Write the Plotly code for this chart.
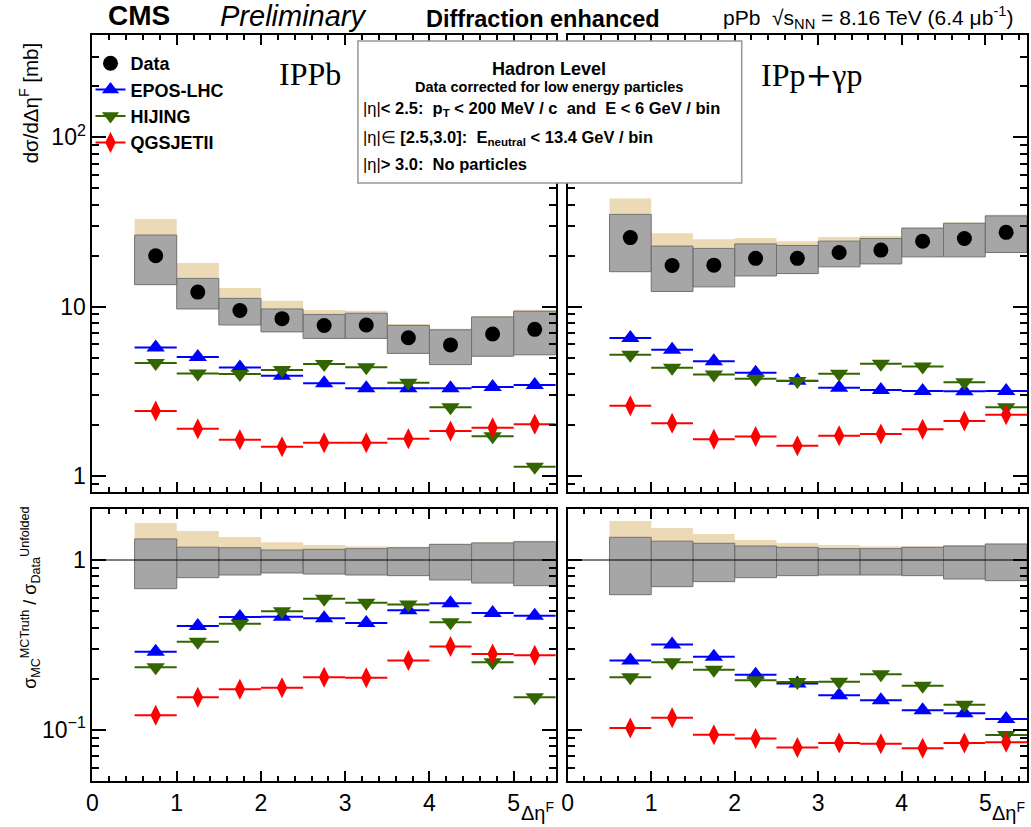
import plotly.graph_objects as go

# ---------------- data ----------------
bin_edges = [0.5, 1.0, 1.5, 2.0, 2.5, 3.0, 3.5, 4.0, 4.5, 5.0, 5.5]

# IPPb (top-left)
data_pb = [20.0, 12.2, 9.5, 8.5, 7.75, 7.8, 6.55, 5.95, 6.9, 7.35]
sys_lo_pb = [13.5, 9.7, 7.8, 7.1, 6.5, 6.5, 5.3, 4.55, 5.1, 5.2]
sys_hi_pb = [26.5, 14.7, 11.2, 9.7, 9.0, 9.15, 7.75, 7.3, 8.7, 9.4]
tot_hi_pb = [33.0, 18.1, 12.9, 10.85, 9.55, 9.45, 7.9, 7.4, 8.8, 9.6]
epos_pb = [5.75, 5.05, 4.37, 3.91, 3.53, 3.30, 3.30, 3.30, 3.36, 3.45]
hijing_pb = [4.65, 4.03, 4.0, 4.23, 4.59, 4.39, 3.56, 2.55, 1.72, 1.135]
qgs_pb = [2.42, 1.90, 1.64, 1.49, 1.57, 1.57, 1.66, 1.845, 1.93, 2.02]

# IPp+gamma p (top-right)
data_p = [25.6, 17.5, 17.6, 19.3, 19.3, 20.9, 21.6, 24.4, 25.3, 27.5]
sys_lo_p = [16.1, 12.3, 13.1, 15.2, 15.7, 17.2, 17.9, 19.7, 19.7, 20.9]
sys_hi_p = [35.1, 22.8, 22.1, 23.5, 23.0, 24.4, 25.3, 29.1, 31.1, 34.4]
tot_hi_p = [43.6, 27.2, 25.0, 25.5, 24.4, 25.8, 26.2, 29.5, 31.4, 34.9]
epos_p = [6.53, 5.57, 4.77, 4.07, 3.65, 3.32, 3.22, 3.18, 3.17, 3.18]
hijing_p = [5.21, 4.36, 3.98, 3.75, 3.64, 4.02, 4.61, 4.44, 3.58, 2.55]
qgs_p = [2.60, 2.05, 1.65, 1.71, 1.51, 1.73, 1.77, 1.89, 2.11, 2.30]

# ratios MC / data (bottom-left, IPPb)
rsys_lo_pb = [0.678, 0.787, 0.816, 0.839, 0.827, 0.816, 0.809, 0.763, 0.732, 0.706]
rsys_hi_pb = [1.33, 1.19, 1.18, 1.145, 1.155, 1.166, 1.18, 1.236, 1.26, 1.28]
rtot_hi_pb = [1.65, 1.48, 1.365, 1.27, 1.225, 1.203, 1.198, 1.247, 1.27, 1.30]
repos_pb = [0.289, 0.409, 0.462, 0.464, 0.454, 0.426, 0.506, 0.556, 0.488, 0.4705]
rhij_pb = [0.234, 0.33, 0.422, 0.499, 0.592, 0.561, 0.548, 0.43, 0.25, 0.156]
rqgs_pb = [0.122, 0.156, 0.1735, 0.1774, 0.204, 0.203, 0.256, 0.31, 0.28, 0.275]

# ratios MC / data (bottom-right, IPp+gamma p)
rsys_lo_p = [0.625, 0.697, 0.746, 0.787, 0.809, 0.816, 0.816, 0.809, 0.773, 0.756]
rsys_hi_p = [1.36, 1.29, 1.254, 1.209, 1.187, 1.166, 1.166, 1.187, 1.209, 1.242]
rtot_hi_p = [1.695, 1.54, 1.42, 1.311, 1.259, 1.225, 1.203, 1.203, 1.225, 1.247]
repos_p = [0.256, 0.318, 0.270, 0.2115, 0.188, 0.16, 0.1495, 0.1305, 0.1254, 0.116]
rhij_p = [0.204, 0.25, 0.226, 0.196, 0.1916, 0.192, 0.2127, 0.1822, 0.141, 0.0935]
rqgs_p = [0.1027, 0.118, 0.0939, 0.089, 0.079, 0.0839, 0.0831, 0.078, 0.0839, 0.0846]

top_tickvals = [1, 10, 100]
top_ticktext = ["1", "10", "10<sup>2</sup>"]
bot_tickvals = [0.1, 1]
bot_ticktext = ["10<sup>\u22121</sup>", "1"]

# ---------------- style ----------------
FONT = "Liberation Sans, Arial, sans-serif"
SERIF = "Liberation Serif, Times New Roman, serif"
C_EPOS = "#0000ff"
C_HIJ = "#336600"
C_QGS = "#ff0000"
C_GRAY = "rgb(166,166,166)"
C_TAN = "rgb(236,218,182)"

W, H = 1031, 827


def px(x):
    return x / W


def py(y):
    return 1 - y / H


centers = [(a + b) / 2 for a, b in zip(bin_edges[:-1], bin_edges[1:])]
halfw = [(b - a) / 2 for a, b in zip(bin_edges[:-1], bin_edges[1:])]


def rects(lo, hi):
    xs, ys = [], []
    for x0, x1, l, h in zip(bin_edges[:-1], bin_edges[1:], lo, hi):
        xs += [x0, x1, x1, x0, x0, None]
        ys += [l, l, h, h, l, None]
    return xs, ys


fig = go.Figure()


def add_panel(xa, ya, sys_lo, sys_hi, tot_hi, epos, hij, qgs, data=None):
    tx, ty = rects(sys_lo, tot_hi)
    fig.add_trace(go.Scatter(x=tx, y=ty, fill="toself", fillcolor=C_TAN, mode="lines",
                             line=dict(width=0, color=C_TAN), showlegend=False,
                             hoverinfo="skip", xaxis=xa, yaxis=ya))
    gx, gy = rects(sys_lo, sys_hi)
    fig.add_trace(go.Scatter(x=gx, y=gy, fill="toself", fillcolor=C_GRAY, mode="lines",
                             line=dict(width=1, color="rgb(115,115,115)"), showlegend=False,
                             hoverinfo="skip", xaxis=xa, yaxis=ya))
    for vals, col, sym, size in [(epos, C_EPOS, "triangle-up", 16),
                                 (hij, C_HIJ, "triangle-down", 16),
                                 (qgs, C_QGS, "diamond-tall", 15)]:
        fig.add_trace(go.Scatter(x=centers, y=vals, mode="markers",
                                 marker=dict(symbol=sym, size=size, color=col, line=dict(width=0)),
                                 error_x=dict(type="data", array=halfw, width=0, thickness=2, color=col),
                                 showlegend=False, xaxis=xa, yaxis=ya))
    if data is not None:
        fig.add_trace(go.Scatter(x=centers, y=data, mode="markers",
                                 marker=dict(symbol="circle", size=15, color="black"),
                                 showlegend=False, xaxis=xa, yaxis=ya))


add_panel("x", "y", sys_lo_pb, sys_hi_pb, tot_hi_pb, epos_pb, hijing_pb, qgs_pb, data_pb)
add_panel("x2", "y2", sys_lo_p, sys_hi_p, tot_hi_p, epos_p, hijing_p, qgs_p, data_p)
add_panel("x3", "y3", rsys_lo_pb, rsys_hi_pb, rtot_hi_pb, repos_pb, rhij_pb, rqgs_pb)
add_panel("x4", "y4", rsys_lo_p, rsys_hi_p, rtot_hi_p, repos_p, rhij_p, rqgs_p)

# unity line in ratio panels
for xa, ya in [("x3", "y3"), ("x4", "y4")]:
    fig.add_trace(go.Scatter(x=[0, 5.5], y=[1, 1], mode="lines", line=dict(color="black", width=1),
                             showlegend=False, hoverinfo="skip", xaxis=xa, yaxis=ya))

# legend entries
fig.add_trace(go.Scatter(x=[None], y=[None], mode="markers", name="<b>Data</b>",
                         marker=dict(symbol="circle", size=15, color="black"), xaxis="x", yaxis="y"))
for name, col, sym in [("EPOS-LHC", C_EPOS, "triangle-up"), ("HIJING", C_HIJ, "triangle-down"),
                       ("QGSJETII", C_QGS, "diamond-tall")]:
    fig.add_trace(go.Scatter(x=[None], y=[None], mode="lines+markers", name="<b>%s</b>" % name,
                             line=dict(color=col, width=2),
                             marker=dict(symbol=sym, size=15, color=col), xaxis="x", yaxis="y"))

xdomL = [px(87), px(553)]
xdomR = [px(565), px(1027)]
ydomT = [py(492), py(35)]
ydomB = [py(781), py(509)]


def minor_vals(lo_exp, hi_exp):
    return [k * 10 ** e for e in range(lo_exp, hi_exp + 1) for k in range(2, 10)]


def xax(dom, anchor, labels):
    return dict(domain=dom, anchor=anchor, range=[0, 5.5], showline=True, mirror="ticks",
                linecolor="black", linewidth=2, ticks="inside", ticklen=10, tickwidth=1.5,
                tickcolor="black", tick0=0, dtick=1, showgrid=False, zeroline=False,
                minor=dict(ticks="inside", ticklen=5, tickwidth=1.5, tickcolor="black",
                           dtick=0.2, tick0=0, showgrid=False),
                showticklabels=labels, tickfont=dict(family=FONT, size=23, color="black"))


def yax(dom, anchor, rng, tv, tt, mv, labels):
    return dict(domain=dom, anchor=anchor, type="log", range=rng, showline=True, mirror="ticks",
                linecolor="black", linewidth=2, ticks="inside", ticklen=14, tickwidth=1.5,
                tickcolor="black", tickmode="array", tickvals=tv, ticktext=tt, showgrid=False,
                zeroline=False,
                minor=dict(ticks="inside", ticklen=7, tickwidth=1.5, tickcolor="black",
                           tickmode="array", tickvals=mv, showgrid=False),
                showticklabels=labels, tickfont=dict(family=FONT, size=23, color="black"))


fig.update_layout(
    width=W, height=H, margin=dict(l=0, r=0, t=0, b=0),
    paper_bgcolor="white", plot_bgcolor="white",
    font=dict(family=FONT, color="black"),
    xaxis=xax(xdomL, "y", False), yaxis=yax(ydomT, "x", [-0.0945, 2.605], top_tickvals, top_ticktext, minor_vals(-1, 2), True),
    xaxis2=xax(xdomR, "y2", False), yaxis2=yax(ydomT, "x2", [-0.0945, 2.605], top_tickvals, top_ticktext, minor_vals(-1, 2), False),
    xaxis3=xax(xdomL, "y3", True), yaxis3=yax(ydomB, "x3", [-1.3, 0.3], bot_tickvals, bot_ticktext, minor_vals(-2, 0), True),
    xaxis4=xax(xdomR, "y4", True), yaxis4=yax(ydomB, "x4", [-1.3, 0.3], bot_tickvals, bot_ticktext, minor_vals(-2, 0), False),
    legend=dict(x=px(85), y=py(45), xanchor="left", yanchor="top", bgcolor="rgba(0,0,0,0)",
                font=dict(family=FONT, size=18, color="black"), itemwidth=30, tracegroupgap=0),
    showlegend=True,
)

# info box
fig.add_shape(type="rect", xref="paper", yref="paper", x0=px(354), x1=px(740),
              y0=py(183), y1=py(41), fillcolor="white",
              line=dict(color="rgb(150,150,150)", width=1.5), layer="above")


def ann(text, x, y, size, xanchor="center", yanchor="middle", family=FONT, angle=0):
    fig.add_annotation(text=text, x=px(x), y=py(y), xref="paper", yref="paper",
                       xanchor=xanchor, yanchor=yanchor, showarrow=False, textangle=angle,
                       font=dict(family=family, size=size, color="black"))


ann("<b>CMS</b>", 134, 16, 28)
ann("<i>Preliminary</i>", 289, 16, 29)
ann("<b>Diffraction enhanced</b>", 540, 19, 23.5)
ann("pPb  \u221as<sub>NN</sub> = 8.16 TeV (6.4 \u03bcb<sup>-1</sup>)", 867, 18, 21)

ann("<b>Hadron Level</b>", 546, 69, 18)
ann("<b>Data corrected for low energy particles</b>", 546, 87, 14.5)
ann("|\u03b7|<b>&lt; 2.5:  p<sub>T</sub> &lt; 200 MeV / c  and  E &lt; 6 GeV / bin</b>", 357, 109, 16.5, xanchor="left")
ann("|\u03b7|\u2208 <b>[2.5,3.0]:  E<sub>neutral</sub> &lt; 13.4 GeV / bin</b>", 357, 138, 16.5, xanchor="left")
ann("|\u03b7|<b>&gt; 3.0:  No particles</b>", 357, 164, 16.5, xanchor="left")

ann("IPPb", 306, 74, 32, family=SERIF)
ann("IPp<span style='font-family:DejaVu Serif'>+</span>\u03b3p", 810, 75, 32, family=SERIF)

ann("d\u03c3/d\u0394\u03b7<sup>F</sup> [mb]", 24, 40, 20.5, yanchor="top", angle=-90)
ann("\u03c3<sub>MC</sub><sup>MCTruth</sup> / \u03c3<sub>Data</sub><sup>Unfolded</sup>", 24, 505, 18, yanchor="top", angle=-90)

ann("\u0394\u03b7<sup>F</sup>", 553, 811, 20, xanchor="right")
ann("\u0394\u03b7<sup>F</sup>", 1027, 811, 20, xanchor="right")

fig.write_html("out.html", config={"displayModeBar": False},
               post_script="document.body.style.margin='0px';document.body.style.overflow='hidden';")
